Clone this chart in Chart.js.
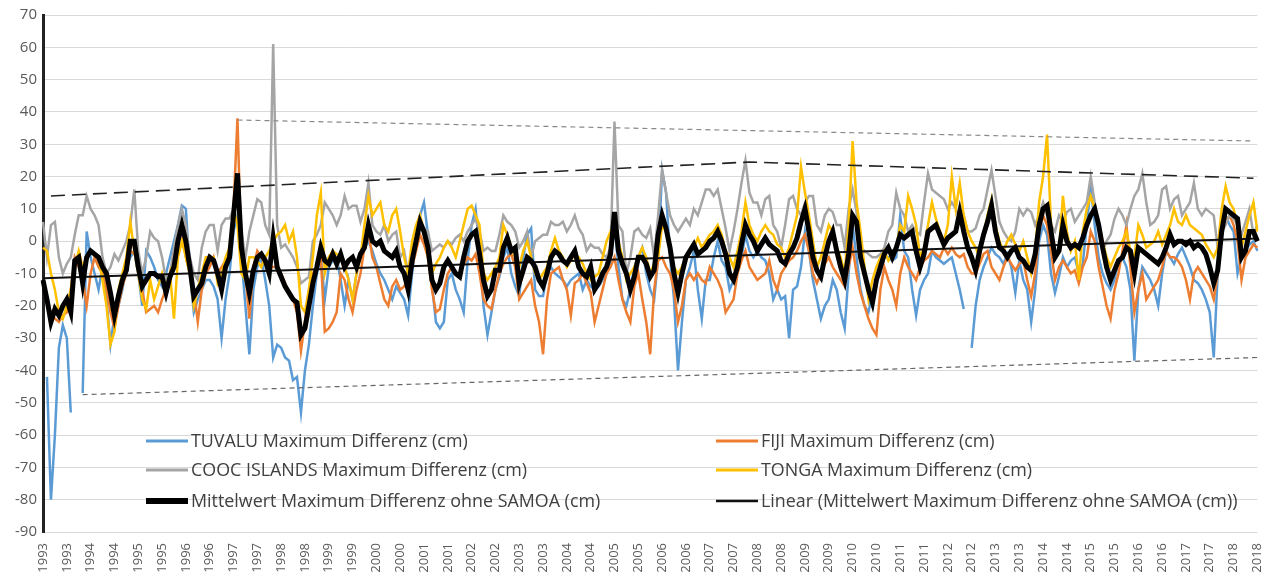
<!DOCTYPE html>
<html>
<head>
<meta charset="utf-8">
<script src="https://cdn.jsdelivr.net/npm/chart.js@4.4.1/dist/chart.umd.min.js"></script>
<style>
  html, body { margin: 0; padding: 0; background: #fff; }
</style>
</head>
<body>
<canvas id="myChart" width="1276" height="580"></canvas>
<script>
// half-year tick labels (one every 6 months)
const tickLabels = [
  '1993','1993','1994','1994','1995','1995','1996','1996','1997','1997',
  '1998','1998','1999','1999','2000','2000','2001','2001','2002','2002',
  '2003','2003','2004','2004','2005','2005','2006','2006','2007','2007',
  '2008','2008','2009','2009','2010','2010','2011','2011','2012','2012',
  '2013','2013','2014','2014','2015','2015','2016','2016','2017','2017',
  '2018','2018'
];

// monthly values, Jan 1993 .. Jul 2018
const tuvalu = [
  null,-42,-80,-60,-33,-26,-30,-53,null,null,-47,3,
  -5,-10,-15,-8,-18,-32,-23,-20,-15,-8,-5,-3,
  -10,-20,-3,-5,-8,-12,-14,-10,-5,0,5,11,
  10,-10,-22,-18,-15,-12,-12,-14,-18,-30,-18,-10,
  3,8,-5,-20,-35,-15,-8,-5,-12,-20,-36,-32,
  -33,-36,-37,-43,-42,-53,-40,-32,-20,-10,-5,-18,
  -8,-6,-5,-12,-20,-12,-18,-10,-4,-2,0,-3,
  -7,-10,-12,-15,-18,-14,-16,-18,-23,-10,0,8,
  12,2,-13,-25,-27,-25,-12,-10,-15,-18,-22,-6,
  5,10,-2,-20,-29,-22,-15,-11,-5,-2,-10,-14,
  -17,-5,2,4,-15,-17,-17,-10,-8,-10,-11,-12,
  -14,-12,-11,-10,-15,-12,-14,-15,-14,-12,-10,-6,
  5,-8,-18,-20,-15,-8,-5,-2,-10,-15,-18,-5,
  22,15,-5,-18,-40,-25,-12,-8,-3,-15,-24,-12,
  -12,-5,0,-6,-8,-15,-12,-8,-5,2,-3,-5,
  -3,-5,-6,-10,-18,-15,-18,-17,-30,-15,-14,-8,
  3,-3,-12,-18,-24,-20,-18,-12,-15,-22,-27,-10,
  5,-5,-15,-20,-22,-16,-12,-10,-5,-5,-6,-5,
  8,-3,-5,-15,-23,-15,-12,-10,-3,-5,-6,-7,
  -6,-5,-10,-15,-21,null,-33,-20,-12,-8,-5,-2,
  -4,-5,-7,-4,-8,-16,-6,-12,-15,-25,-15,0,
  5,2,-10,-16,-11,-5,-8,-6,-5,-10,-7,5,
  17,5,-5,-10,-13,-15,-12,-6,-5,-8,-15,-37,
  -15,-8,-10,-12,-15,-20,-10,-3,-5,-7,-4,-2,
  -5,-8,-12,-13,-15,-18,-22,-36,-10,5,8,5,
  3,-10,-5,-3,-1,0,-3
];

const fiji = [
  -13,-18,-22,-24,-25,-23,-22,-15,-5,-8,-12,-20,
  -10,-5,-8,-10,-15,-22,-27,-20,-14,-10,-3,-4,
  -5,-15,-22,-21,-20,-22,-18,-15,-10,-5,0,5,
  -5,-10,-15,-25,-15,-10,-8,-5,-10,-8,-6,-5,
  10,38,-5,-10,-24,-8,-3,-5,-7,-8,-8,-8,
  -10,-13,-16,-18,-22,-34,-25,-15,-10,-8,-5,-28,
  -27,-25,-22,-10,-12,-18,-22,-15,-10,-2,3,-5,
  -8,-13,-18,-20,-14,-12,-15,-14,-12,-8,-3,2,
  -1,-5,-15,-22,-21,-15,-10,-8,-10,-10,-7,-5,
  -6,-4,-10,-18,-20,-21,-15,-10,-7,-5,-4,-8,
  -18,-16,-14,-12,-20,-25,-35,-18,-10,-9,-8,-12,
  -15,-23,-13,-12,-10,-13,-16,-25,-20,-15,-10,-8,
  -5,-12,-18,-22,-25,-14,-10,-18,-25,-35,-15,-6,
  -5,-8,-10,-15,-25,-20,-12,-10,-12,-10,-12,-13,
  -8,-10,-12,-15,-22,-20,-18,-10,-6,-3,-8,-10,
  -12,-11,-10,-6,-12,-15,-10,-8,-6,-5,-3,0,
  2,-3,-10,-13,-10,-7,-5,-8,-10,-12,-14,-8,
  -2,-10,-16,-20,-24,-27,-29,-15,-8,-12,-15,-20,
  -10,-5,-8,-10,-12,-8,-6,-5,-3,-4,-5,-2,
  -4,-2,-4,-5,-4,-8,-10,-10,-7,-4,-3,-8,
  -10,-12,-8,-5,-7,-9,-7,-6,-12,-17,-10,3,
  8,5,-3,-12,-8,-6,-8,-10,-9,-13,-8,-5,
  3,0,-8,-14,-20,-24,-15,-10,-3,5,-8,-22,
  -15,-10,-18,-16,-14,-12,-8,-3,-5,-5,-6,-8,
  -12,-18,-10,-8,-10,-12,-14,-18,-10,3,6,8,
  5,0,-12,-5,-3,-1,-2
];

const cook = [
  6,-5,5,6,-5,-10,-7,-5,2,8,8,14,
  10,8,5,-5,-10,-8,-4,-6,-3,0,5,16,
  -3,-10,-5,3,1,0,-5,-12,-10,-2,5,10,
  5,-5,-10,-12,-2,3,5,5,-3,5,7,7,
  10,12,3,-5,3,8,13,12,5,2,61,5,
  -2,-1,-3,-5,-8,-13,-12,-11,0,2,5,12,
  10,8,5,8,14,10,11,11,6,10,18,5,
  3,2,5,0,2,3,-5,-3,-10,-5,1,5,
  4,3,-3,-2,-1,-2,0,-1,1,2,0,3,
  5,7,3,-3,-2,-3,-3,2,8,6,5,3,
  -2,0,3,-5,0,1,2,2,6,5,5,6,
  3,5,8,4,2,-3,-1,-2,-2,-4,-5,-2,
  37,5,3,-10,-5,3,4,2,1,4,-5,8,
  22,15,8,5,3,5,7,5,10,8,12,16,
  16,14,16,10,4,-3,3,10,18,25,15,12,
  12,8,13,14,5,3,-2,5,13,14,10,8,
  12,14,14,5,3,8,10,9,5,5,-2,10,
  16,9,-5,-3,-4,-5,-5,-4,-2,3,5,15,
  10,8,3,5,3,2,12,21,16,15,14,13,
  10,12,10,7,8,3,3,4,8,10,16,22,
  14,6,3,1,0,3,10,8,10,9,5,8,
  12,8,5,3,8,6,9,10,6,8,10,12,
  20,12,5,-3,0,2,7,10,8,5,10,14,
  16,21,12,5,6,8,16,17,10,13,14,8,
  10,12,18,10,8,10,9,8,-2,3,5,8,
  7,5,2,6,10,2,5
];

const tonga = [
  -2,-3,-10,-15,-22,-24,-20,-15,-8,-3,-8,-5,
  -3,-4,-5,-12,-20,-32,-28,-15,-10,-5,6,-3,
  -10,-18,-21,-12,-18,-14,-10,-15,-10,-24,-5,0,
  -5,-10,-20,-15,-10,-5,-5,-5,-13,-10,-5,-2,
  10,5,-10,-12,-5,-5,-6,-8,-5,-3,0,2,
  3,5,0,3,-5,-20,-22,-15,-5,8,15,-10,
  -5,-3,-4,-5,-8,-12,-18,-10,-5,5,14,8,
  10,12,5,3,8,10,3,-5,-10,0,5,8,
  3,-5,-10,-7,-5,-2,0,-2,-5,0,5,10,
  11,8,5,-10,-12,-10,-8,-5,5,2,-2,-5,
  -8,-3,0,-5,-10,-12,-10,-8,-3,1,-3,-5,
  -8,-6,-4,-5,-7,-10,-12,-11,-10,-5,0,3,
  5,0,-5,-12,-10,-8,-5,-2,-5,-10,-7,-5,
  5,3,-2,-8,-10,-8,-5,-3,-2,1,-2,0,
  2,3,5,2,-3,-5,-8,-3,3,12,5,2,
  0,3,5,3,2,-1,-2,-5,-2,3,8,23,
  15,8,0,-8,-5,0,5,3,-2,-5,-10,5,
  31,12,3,-8,-18,-12,-8,-5,-3,-6,-4,-2,
  5,3,14,10,5,-5,-2,5,12,7,3,0,
  5,20,10,18,8,3,0,-2,-5,2,8,13,
  5,0,-3,0,2,-1,-3,0,-5,-10,-3,12,
  20,33,5,-5,-3,14,3,-3,0,-12,3,10,
  14,10,5,0,-5,-8,-5,-2,0,3,-3,-5,
  5,2,-2,-1,0,3,-1,2,5,10,6,5,
  8,5,4,3,2,-1,-3,-5,-2,10,17,12,
  10,5,-2,3,8,12,3
];

const mittel = [
  -12,-18,-25,-21,-23,-20,-18,-22,-6,-5,-13,-5,
  -3,-4,-5,-8,-10,-16,-23,-17,-12,-9,0,0,
  -8,-14,-12,-10,-10,-11,-11,-16,-11,-8,0,5,
  0,-8,-17,-15,-13,-8,-5,-6,-10,-15,-8,-5,
  8,21,-2,-10,-16,-9,-5,-4,-6,-10,1,-8,
  -11,-14,-16,-18,-19,-29,-27,-20,-13,-8,-2,-6,
  -7,-4,-7,-4,-8,-6,-5,-8,-4,-2,5,0,
  -1,0,-3,-4,-5,-3,-8,-10,-15,-6,0,6,
  3,-2,-12,-15,-13,-8,-6,-8,-10,-11,-5,0,
  2,3,-4,-12,-17,-15,-9,-9,-2,1,-3,-2,
  -13,-9,-5,-6,-8,-12,-14,-10,-5,-3,-4,-6,
  -7,-5,-3,-8,-10,-11,-8,-15,-13,-10,-8,-4,
  9,-3,-7,-10,-15,-11,-5,-5,-7,-11,-9,2,
  8,4,-2,-10,-16,-10,-5,-3,-1,-4,-3,-2,
  0,1,3,0,-4,-10,-12,-8,-1,5,2,0,
  -3,-1,1,-1,-2,-3,-6,-7,-4,-2,1,6,
  10,3,-5,-9,-11,-5,0,3,-3,-8,-12,-4,
  8,6,-5,-10,-15,-19,-12,-8,-4,-2,-5,-2,
  2,1,2,3,-3,-8,-4,3,4,5,2,-1,
  1,2,3,9,3,-2,-5,-9,-3,2,6,11,
  3,-2,-3,-5,-3,-2,-5,-6,-8,-9,-4,5,
  10,11,3,-5,-3,5,0,-2,-1,-2,1,5,
  8,10,5,-2,-8,-12,-9,-6,-5,-2,-3,-10,
  -2,-3,-4,-5,-6,-7,-5,-2,2,-1,0,0,
  -1,0,-2,-1,-2,-4,-8,-13,-9,3,10,9,
  8,7,-5,-3,3,3,0
];

// trend and envelope lines: [month index, value]
const linearPts = [[0, -11.5], [306, 0.8]];
const upperGrayPts = [[49, 37.5], [305, 31]];
const upperBlackPts = [[2, 14], [178, 24.5], [305, 19.5]];
const lowerGrayPts = [[10, -47.5], [306, -36]];

const n = mittel.length;
const labels = [];
for (let i = 0; i < n; i++) labels.push(tickLabels[Math.floor(i / 6)]);

function sparse(pts) {
  const arr = new Array(n).fill(null);
  pts.forEach(p => { arr[p[0]] = p[1]; });
  return arr;
}

const legendItems = [
  { text: 'TUVALU Maximum Differenz (cm)', color: '#5B9BD5', w: 3, col: 0, row: 0 },
  { text: 'FIJI Maximum Differenz (cm)', color: '#ED7D31', w: 3, col: 1, row: 0 },
  { text: 'COOC ISLANDS Maximum Differenz (cm)', color: '#A5A5A5', w: 3, col: 0, row: 1 },
  { text: 'TONGA Maximum Differenz (cm)', color: '#FFC000', w: 3, col: 1, row: 1 },
  { text: 'Mittelwert Maximum Differenz ohne SAMOA (cm)', color: '#000', w: 6, col: 0, row: 2 },
  { text: 'Linear (Mittelwert Maximum Differenz ohne SAMOA (cm))', color: '#111', w: 2.5, col: 1, row: 2 }
];

const insideLegend = {
  id: 'insideLegend',
  afterDraw(chart) {
    const ctx = chart.ctx;
    ctx.save();
    ctx.font = '16px "Open Sans"';
    const w = ctx.measureText(legendItems[0].text).width;
    const size = 16 * 277 / w;
    ctx.font = size.toFixed(2) + 'px "Open Sans"';
    ctx.textBaseline = 'middle';
    ctx.fillStyle = '#404040';
    const colX = [146, 716];
    const rowY = [441, 470, 501];
    legendItems.forEach(it => {
      const x = colX[it.col], y = rowY[it.row];
      ctx.strokeStyle = it.color;
      ctx.lineWidth = it.w;
      ctx.beginPath();
      ctx.moveTo(x, y);
      ctx.lineTo(x + 42, y);
      ctx.stroke();
      ctx.fillText(it.text, x + 45, y + 1);
    });
    ctx.restore();
  }
};

const line = (label, data, color, width, order) => ({
  label, data, borderColor: color, backgroundColor: color,
  borderWidth: width, pointRadius: 0, tension: 0, order, spanGaps: false
});

const config = {
  type: 'line',
  data: {
    labels: labels,
    datasets: [
      line('Mittelwert Maximum Differenz ohne SAMOA (cm)', mittel, '#000', 5, 0),
      Object.assign(line('Linear', sparse(linearPts), '#111', 2, 1), { spanGaps: true }),
      Object.assign(line('upperBlack', sparse(upperBlackPts), '#222', 1.6, 2), { spanGaps: true, borderDash: [14, 7] }),
      Object.assign(line('upperGray', sparse(upperGrayPts), '#888', 1.2, 2), { spanGaps: true, borderDash: [5, 4] }),
      Object.assign(line('lowerGray', sparse(lowerGrayPts), '#666', 1.2, 2), { spanGaps: true, borderDash: [5, 4] }),
      line('TONGA Maximum Differenz (cm)', tonga, '#FFC000', 2.5, 3),
      line('COOC ISLANDS Maximum Differenz (cm)', cook, '#A5A5A5', 2.5, 4),
      line('FIJI Maximum Differenz (cm)', fiji, '#ED7D31', 2.5, 5),
      line('TUVALU Maximum Differenz (cm)', tuvalu, '#5B9BD5', 2.5, 6)
    ]
  },
  options: {
    responsive: false,
    animation: false,
    devicePixelRatio: 1,
    layout: { padding: { top: 15, right: 8, left: 0, bottom: 0 } },
    plugins: { legend: { display: false }, tooltip: { enabled: false } },
    scales: {
      x: {
        offset: false,
        grid: { display: false },
        border: { display: false },
        ticks: {
          autoSkip: false,
          maxRotation: 90,
          minRotation: 90,
          padding: 3,
          color: '#595959',
          font: { family: 'Open Sans', size: 13 },
          callback: (v, i) => (i % 6 === 0 ? labels[i] : null)
        },
        afterFit: s => { s.height = 48; }
      },
      y: {
        min: -90,
        max: 70,
        ticks: {
          stepSize: 10,
          padding: 6,
          color: '#595959',
          font: { family: 'Open Sans', size: 15 }
        },
        grid: { color: '#d9d9d9', lineWidth: 1, drawTicks: false },
        border: { color: '#222', width: 3 },
        afterFit: s => { s.width = 43; }
      }
    }
  },
  plugins: [insideLegend]
};

const ctx = document.getElementById('myChart');
const myChart = new Chart(ctx, config);
</script>
</body>
</html>
